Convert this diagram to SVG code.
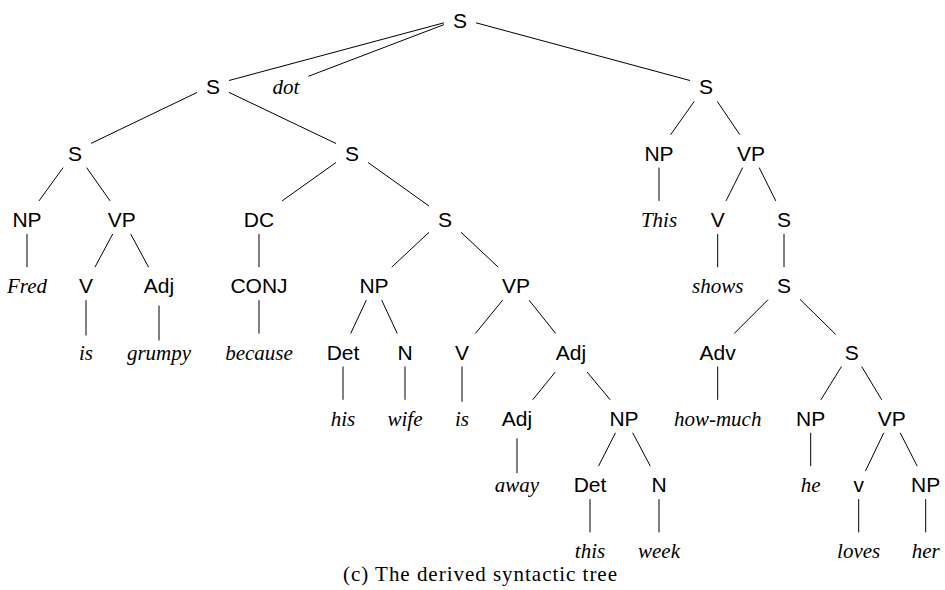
<svg xmlns="http://www.w3.org/2000/svg" width="945" height="590" viewBox="0 0 945 590">
<style>
.c { font-family: "Liberation Sans", Arial, sans-serif; font-size: 21px; text-anchor: middle; fill: #000; }
.w { font-family: "Liberation Serif", "Times New Roman", serif; font-style: italic; font-size: 21px; text-anchor: middle; fill: #000; }
.cap { font-family: "Liberation Serif", "Times New Roman", serif; font-size: 21px; text-anchor: middle; fill: #000; }
#edges line { stroke: #000; stroke-width: 1; fill: none; }
</style>
<rect width="945" height="590" fill="#fff"/>
<g id="edges">
<line x1="444" y1="22.8" x2="229" y2="80.5"/>
<line x1="444" y1="24.6" x2="308.4" y2="76.3"/>
<line x1="476" y1="22.8" x2="690" y2="80.5"/>
<line x1="197" y1="92.5" x2="91" y2="143.4"/>
<line x1="229" y1="92.4" x2="336" y2="143.5"/>
<line x1="63.1" y1="167.6" x2="39" y2="200.9"/>
<line x1="86.6" y1="167.6" x2="110.1" y2="200.9"/>
<line x1="27" y1="233.9" x2="27" y2="267.2"/>
<line x1="112.8" y1="233.9" x2="94.9" y2="267.2"/>
<line x1="130.6" y1="233.9" x2="148.6" y2="267.2"/>
<line x1="86" y1="300.2" x2="86" y2="335.5"/>
<line x1="159" y1="305.7" x2="159" y2="340.5"/>
<line x1="336" y1="162.5" x2="282.1" y2="200.9"/>
<line x1="368" y1="162.5" x2="429" y2="206"/>
<line x1="259" y1="233.9" x2="259" y2="267.2"/>
<line x1="259" y1="300.2" x2="259" y2="333.5"/>
<line x1="429" y1="232.3" x2="391.7" y2="267.2"/>
<line x1="461" y1="232.3" x2="498.3" y2="267.2"/>
<line x1="366.3" y1="300.2" x2="350.7" y2="333.5"/>
<line x1="381.7" y1="300.2" x2="397.3" y2="333.5"/>
<line x1="343" y1="366.5" x2="343" y2="399.8"/>
<line x1="405" y1="366.5" x2="405" y2="399.8"/>
<line x1="502.6" y1="300.2" x2="475.4" y2="333.5"/>
<line x1="529.1" y1="300.2" x2="555.7" y2="333.5"/>
<line x1="462" y1="366.5" x2="462" y2="401.8"/>
<line x1="555.3" y1="372" x2="532.7" y2="399.8"/>
<line x1="587.1" y1="372" x2="610.2" y2="399.8"/>
<line x1="517" y1="438.3" x2="517" y2="473.1"/>
<line x1="615.5" y1="432.8" x2="598.5" y2="466.1"/>
<line x1="632.7" y1="432.8" x2="650.3" y2="466.1"/>
<line x1="590" y1="499.1" x2="590" y2="532.4"/>
<line x1="659" y1="499.1" x2="659" y2="532.4"/>
<line x1="694.3" y1="101.3" x2="670.7" y2="134.6"/>
<line x1="717.2" y1="101.3" x2="739.8" y2="134.6"/>
<line x1="659" y1="167.6" x2="659" y2="200.9"/>
<line x1="742.7" y1="167.6" x2="726" y2="200.9"/>
<line x1="759.2" y1="167.6" x2="775.8" y2="200.9"/>
<line x1="717.7" y1="233.9" x2="717.7" y2="267.2"/>
<line x1="784" y1="233.9" x2="784" y2="267.2"/>
<line x1="768" y1="299.7" x2="734.2" y2="333.5"/>
<line x1="800" y1="299.4" x2="835.7" y2="334.4"/>
<line x1="717.7" y1="366.5" x2="717.7" y2="399.8"/>
<line x1="841.5" y1="366.5" x2="820.9" y2="399.8"/>
<line x1="861.7" y1="366.5" x2="881.7" y2="399.8"/>
<line x1="810.7" y1="432.8" x2="810.7" y2="466.1"/>
<line x1="883.8" y1="432.8" x2="865.4" y2="471.1"/>
<line x1="900.2" y1="432.8" x2="917.2" y2="466.1"/>
<line x1="858.7" y1="499.1" x2="858.7" y2="532.4"/>
<line x1="925.7" y1="499.1" x2="925.7" y2="532.4"/>
</g>
<g id="n0"><text class="c" x="460" y="28">S</text></g>
<g id="n1"><text class="c" x="213" y="94.3">S</text></g>
<g id="n1d"><text class="w" x="286" y="94.3">dot</text></g>
<g id="n2"><text class="c" x="706" y="94.3">S</text></g>
<g id="n3"><text class="c" x="75" y="160.6">S</text></g>
<g id="n4"><text class="c" x="352" y="160.6">S</text></g>
<g id="n5"><text class="c" x="659" y="160.6">NP</text></g>
<g id="n6"><text class="c" x="751" y="160.6">VP</text></g>
<g id="n7"><text class="c" x="27" y="226.9">NP</text></g>
<g id="n8"><text class="c" x="121.7" y="226.9">VP</text></g>
<g id="n9"><text class="c" x="259" y="226.9">DC</text></g>
<g id="n10"><text class="c" x="445" y="226.9">S</text></g>
<g id="n11"><text class="w" x="659" y="226.9">This</text></g>
<g id="n12"><text class="c" x="717.7" y="226.9">V</text></g>
<g id="n13"><text class="c" x="784" y="226.9">S</text></g>
<g id="n14"><text class="w" x="27" y="293.2">Fred</text></g>
<g id="n15"><text class="c" x="86" y="293.2">V</text></g>
<g id="n16"><text class="c" x="159" y="293.2">Adj</text></g>
<g id="n17"><text class="c" x="259" y="293.2">CONJ</text></g>
<g id="n18"><text class="c" x="374" y="293.2">NP</text></g>
<g id="n19"><text class="c" x="516" y="293.2">VP</text></g>
<g id="n20"><text class="w" x="717.7" y="293.2">shows</text></g>
<g id="n21"><text class="c" x="784" y="293.2">S</text></g>
<g id="n22"><text class="w" x="86" y="359.5">is</text></g>
<g id="n23"><text class="w" x="159" y="359.5">grumpy</text></g>
<g id="n24"><text class="w" x="259" y="359.5">because</text></g>
<g id="n25"><text class="c" x="343" y="359.5">Det</text></g>
<g id="n26"><text class="c" x="405" y="359.5">N</text></g>
<g id="n27"><text class="c" x="462" y="359.5">V</text></g>
<g id="n28"><text class="c" x="571" y="359.5">Adj</text></g>
<g id="n29"><text class="c" x="717.7" y="359.5">Adv</text></g>
<g id="n30"><text class="c" x="851.7" y="359.5">S</text></g>
<g id="n31"><text class="w" x="343" y="425.8">his</text></g>
<g id="n32"><text class="w" x="405" y="425.8">wife</text></g>
<g id="n33"><text class="w" x="462" y="425.8">is</text></g>
<g id="n34"><text class="c" x="517" y="425.8">Adj</text></g>
<g id="n35"><text class="c" x="624" y="425.8">NP</text></g>
<g id="n36"><text class="w" x="717.7" y="425.8">how-much</text></g>
<g id="n37"><text class="c" x="810.7" y="425.8">NP</text></g>
<g id="n38"><text class="c" x="891.7" y="425.8">VP</text></g>
<g id="n39"><text class="w" x="517" y="492.1">away</text></g>
<g id="n40"><text class="c" x="590" y="492.1">Det</text></g>
<g id="n41"><text class="c" x="659" y="492.1">N</text></g>
<g id="n42"><text class="w" x="810.7" y="492.1">he</text></g>
<g id="n43"><text class="c" x="858.7" y="492.1">v</text></g>
<g id="n44"><text class="c" x="925.7" y="492.1">NP</text></g>
<g id="n45"><text class="w" x="590" y="558.4">this</text></g>
<g id="n46"><text class="w" x="659" y="558.4">week</text></g>
<g id="n47"><text class="w" x="858.7" y="558.4">loves</text></g>
<g id="n48"><text class="w" x="925.7" y="558.4">her</text></g>
<g id="caption"><text class="cap" x="480" y="581" textLength="274" lengthAdjust="spacing">(c) The derived syntactic tree</text></g>
</svg>
